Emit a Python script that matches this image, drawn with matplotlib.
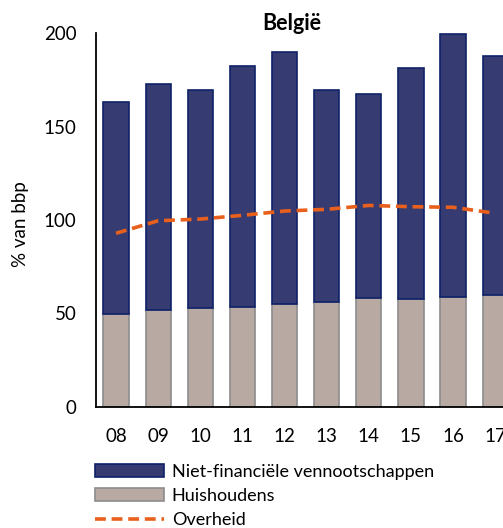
import matplotlib
matplotlib.use("Agg")
import matplotlib.pyplot as plt
import numpy as np

# data
years = ["08", "09", "10", "11", "12", "13", "14", "15", "16", "17"]
huishoudens = [49.6, 51.7, 52.8, 53.6, 54.9, 56.0, 58.1, 57.9, 59.0, 60.0]
totaal = [163.3, 172.7, 169.5, 182.2, 189.7, 169.5, 167.2, 181.3, 199.5, 187.7]
overheid = [92.9, 99.6, 100.5, 102.5, 104.8, 105.7, 107.8, 107.1, 106.8, 103.6]

nfv = [t - h for t, h in zip(totaal, huishoudens)]

plt.rcParams['font.family'] = ['Lato', 'DejaVu Sans']

fig = plt.figure(figsize=(5.03, 5.28), dpi=100)
ax = fig.add_axes([96 / 503, 1 - 407 / 528, 1 - 96 / 503 + 0.002, (407 - 33) / 528])

x = np.arange(len(years))
w = 0.6
b1 = ax.bar(x, huishoudens, w, color="#B8AAA2", edgecolor="#8C8C8C", linewidth=1.2,
            label="Huishoudens", zorder=2)
b2 = ax.bar(x, nfv, w, bottom=huishoudens, color="#363B72", edgecolor="#0E2268",
            linewidth=1.2, label="Niet-financiële vennootschappen", zorder=2)
ln, = ax.plot(x, overheid, color="#E8601C", linestyle=(0, (3, 1.6)), linewidth=2.6,
              label="Overheid", zorder=3)

ax.set_xlim(-0.476, 9.21)
ax.set_ylim(0, 200)
ax.set_yticks([0, 50, 100, 150, 200])
ax.set_xticks(x)
ax.set_xticklabels(years)
ax.tick_params(axis="both", length=0, labelsize=13.5)
ax.tick_params(axis="x", pad=15)
ax.tick_params(axis="y", pad=14)
for s in ["top", "right"]:
    ax.spines[s].set_visible(False)
for s in ["left", "bottom"]:
    ax.spines[s].set_linewidth(1.3)
    ax.spines[s].set_color("black")
ax.set_ylabel("% van bbp", fontsize=13.5)
ax.yaxis.set_label_coords(-0.165, 0.49)

fig.text(292 / 503, 1 - 24 / 528, "België", fontsize=15.5, fontweight="bold",
         ha="center", va="center")

fig.legend([b2, b1, ln], ["Niet-financiële vennootschappen", "Huishoudens", "Overheid"],
           loc="upper left", bbox_to_anchor=(95 / 503, 1 - 464 / 528),
           frameon=False, fontsize=13, handlelength=3.8, handleheight=0.72,
           labelspacing=0.45, handletextpad=0.45, borderaxespad=0, borderpad=0)

fig.savefig("out.png", dpi=100)
